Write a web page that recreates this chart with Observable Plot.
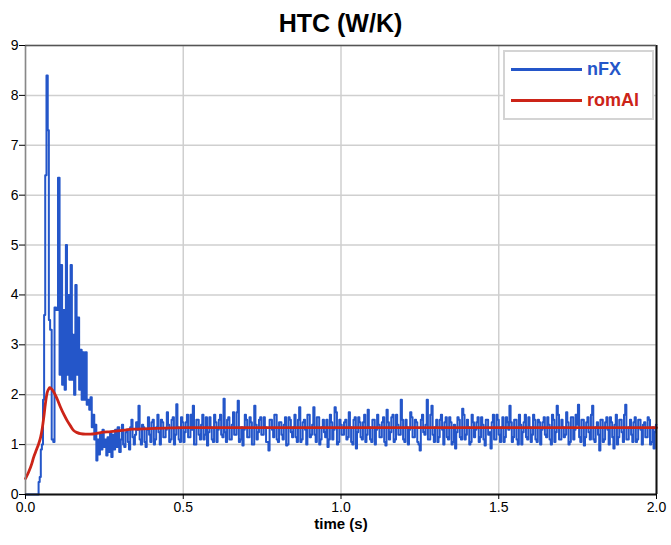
<!DOCTYPE html>
<html>
<head>
<meta charset="utf-8">
<script src="https://cdn.jsdelivr.net/npm/d3@7"></script>
<script src="https://cdn.jsdelivr.net/npm/@observablehq/plot@0.6"></script>
<style>
  body { margin: 0; background: #fff; font-family: "Liberation Sans", Arial, sans-serif; }
  #wrap { position: relative; width: 671px; height: 545px; }
  #title { position: absolute; left: 0; top: 8px; width: 671px; padding-left: 10px; box-sizing: border-box; text-align: center; font-weight: bold; font-size: 25px; line-height: 30px; color: #000; }
  #legend { position: absolute; left: 503px; top: 50px; width: 151px; height: 70px; border: 2px solid #d4d4d4; background: #fff; box-sizing: border-box; }
  .lg { position: absolute; left: 6px; height: 22px; display: flex; align-items: center; font-weight: bold; font-size: 18px; }
  .lg span.ln { display: inline-block; width: 71px; height: 3px; margin-right: 5px; }
</style>
</head>
<body>
<div id="wrap">
  <div id="chart"></div>
  <div id="title">HTC (W/K)</div>
  <div id="legend"></div>
</div>
<script>
// ---- data ----
const seriesNames = ["nFX", "romAl"];
const seriesColors = ["#2456c9", "#cc2418"];

// nFX: early transient (time, value)
const nfxEarlyTime = [0, 0.040, 0.043, 0.047, 0.050, 0.054, 0.057, 0.061, 0.064, 0.069, 0.072, 0.076, 0.080, 0.086, 0.090, 0.094, 0.100, 0.106, 0.110, 0.114, 0.118, 0.122, 0.126, 0.130, 0.133, 0.137, 0.141, 0.145, 0.149, 0.152, 0.156, 0.160, 0.164, 0.168, 0.172, 0.176, 0.180, 0.184, 0.188, 0.192, 0.196, 0.200, 0.204, 0.208, 0.212, 0.216, 0.220, 0.223, 0.226, 0.230, 0.234, 0.238, 0.242, 0.246, 0.250, 0.254, 0.258, 0.262, 0.266, 0.270, 0.274, 0.278, 0.282, 0.286, 0.290, 0.294];
const nfxEarlyValue = [0, 0.0, 0.25, 0.35, 0.9, 1.0, 1.9, 3.6, 6.4, 8.4, 7.3, 3.5, 3.3, 1.1, 1.05, 3.75, 3.7, 6.35, 2.4, 4.6, 2.2, 3.7, 2.1, 5.0, 2.4, 4.0, 2.3, 4.6, 2.3, 3.2, 2.0, 4.2, 2.4, 3.55, 2.1, 2.9, 1.9, 2.85, 1.9, 2.85, 1.8, 1.9, 1.7, 1.95, 1.35, 1.6, 1.1, 1.4, 0.68, 1.1, 0.8, 1.2, 0.9, 1.3, 0.95, 1.1, 0.78, 1.15, 0.85, 1.25, 0.75, 1.2, 0.9, 1.3, 0.95, 1.35];

// nFX: steady part, evenly sampled from 0.30 s to 2.0 s (A samples),
// with B samples lying half-way between consecutive A samples
const nfxSteadyStart = 0.30, nfxSteadyEnd = 2.0;
const nfxSteadyA = [
  0.85, 1.4, 0.95, 1.3, 0.9, 1.5, 1.0, 1.45, 1.78, 1.0, 1.35, 0.95, 1.55, 1.05,
  1.5, 1.1, 1.6, 1.0, 1.45, 1.15, 1.65, 1.05, 1.5, 1.0, 1.81, 1.1, 1.55,
  1.05, 1.45, 1.15, 1.6, 1.78, 1.0, 1.5, 1.1, 1.6, 1.2, 0.98, 1.55, 1.1,
  1.6, 1.05, 1.5, 1.2, 1.92, 1.05, 1.55, 1.1, 1.65, 1.2, 1.88, 1.1, 0.98, 1.6, 1.15, 1.55, 1.0, 1.78, 1.1, 1.5,
  1.2, 1.55, 1.05, 0.88, 1.5, 1.15, 1.6, 1.05, 1.45, 1.1, 1.55, 1.0, 1.5, 1.15, 1.6, 1.05, 1.75, 1.1, 1.5, 1.0,
  1.6, 1.2, 1.75, 1.05, 1.55, 1.1, 1.5, 1.15, 0.95, 1.6, 1.1, 1.75, 1.0, 1.5, 1.2, 1.45, 1.1, 1.65, 1.05, 1.5,
  0.92, 1.55, 1.15, 1.45, 1.05, 1.7, 1.1, 1.5, 1.0, 1.6, 1.15, 1.45, 1.05, 1.7, 1.1, 1.55, 1.05, 1.6, 1.2, 1.9,
  1.1, 1.5, 1.0, 1.65, 1.15, 1.5, 1.05, 0.88, 1.6, 1.2, 1.9, 1.1, 1.78, 1.05, 1.5, 1.15, 1.6, 1.0, 1.55, 1.1,
  1.45, 1.05, 0.92, 1.55, 1.15, 1.72, 1.1, 1.5, 1.0, 1.6, 1.15, 1.45, 1.05, 1.55, 1.1, 1.5, 1.2, 0.92, 1.6, 1.1,
  1.5, 1.05, 1.55, 1.15, 1.45, 1.78, 1.05, 1.5, 1.1, 1.6, 1.0, 1.45, 1.15, 1.55, 1.05, 1.6, 1.1, 1.5, 1.0, 1.45,
  1.2, 1.55, 1.1, 1.6, 1.05, 1.78, 1.1, 1.5, 1.15, 1.65, 1.0, 1.55, 1.1, 1.6, 1.8, 1.05, 1.5, 1.15, 1.55, 1.1,
  1.78, 1.05, 1.45, 0.88, 1.5, 1.1, 1.55, 1.0, 1.45, 0.92, 1.6, 1.15, 1.5, 1.05, 1.8, 1.1, 1.5, 1.05, 1.55, 1.1,
  1.5, 1.0, 1.45, 1.15, 1.5, 1.05, 0.92, 1.4
];
const nfxSteadyB = [
  1.1, 1.0, 1.25, 1.05, 1.35, 1.15, 1.2, 1.3, 1.1, 1.4, 1.05, 1.3, 1.2, 1.45, 1.0, 1.35, 1.25, 1.5, 1.15, 1.3,
  1.4, 1.1, 1.55, 1.2, 1.35, 1.05, 1.45, 1.25, 1.6, 1.15, 1.3, 1.0, 1.5, 1.2, 1.4, 1.1, 1.55, 1.25, 1.35, 1.05,
  1.45, 1.3, 1.6, 1.15, 1.25, 1.5, 1.1, 1.4, 1.2, 1.65, 1.05, 1.35, 1.3, 1.5, 1.15, 1.45, 1.0, 1.4, 1.25, 1.55,
  1.2, 1.35, 1.05, 1.5, 1.3, 1.6, 1.1, 1.45, 1.2, 1.4, 0.98, 1.55, 1.25, 1.35, 1.15, 1.5, 1.05, 1.45, 1.3, 1.6,
  1.15, 1.4, 1.2, 1.55, 1.0, 1.35, 1.25, 1.5, 1.1, 1.45, 1.3, 1.65, 1.05, 1.4, 1.2, 1.5, 1.15, 1.35, 1.0, 1.55,
  1.25, 1.45, 1.1, 1.6, 1.2, 1.35, 1.05, 1.5, 1.3, 1.4, 1.15, 1.55, 0.98, 1.45, 1.25, 1.6, 1.1, 1.4, 1.2, 1.5,
  1.05, 1.35, 1.3, 1.55, 1.15, 1.45, 1.0, 1.5, 1.25, 1.4, 1.1, 1.6, 1.2, 1.35, 1.05, 1.5, 1.3, 1.45, 1.15, 1.55,
  1.0, 1.4, 1.25, 1.5, 1.1, 1.6, 1.2, 1.35, 1.05, 1.45, 1.3, 1.55, 1.15, 1.4, 0.98, 1.5, 1.25, 1.45, 1.1, 1.6,
  1.2, 1.35, 1.05, 1.55, 1.3, 1.45, 1.15, 1.5, 1.0, 1.4, 1.25, 1.6, 1.1, 1.35, 1.2, 1.5, 1.05, 1.45, 1.3, 1.55,
  1.15, 1.4, 1.0, 1.5, 1.25, 1.6, 1.1, 1.35, 1.2, 1.45, 1.05, 1.55, 1.3, 1.4, 1.15, 1.5, 0.98, 1.45, 1.25, 1.6,
  1.1, 1.35, 1.2, 1.5, 1.05, 1.45, 1.3, 1.55, 1.15, 1.4, 1.0, 1.5, 1.25, 1.6, 1.1, 1.35, 1.2, 1.45, 1.05, 1.5,
  1.3, 1.4, 1.15, 1.55, 1.0, 1.35, 1.25
];

// romAl: smooth response (time, value)
const romTime  = [0, 0.010, 0.020, 0.026, 0.035, 0.042, 0.048, 0.053, 0.058, 0.063, 0.069, 0.074, 0.077, 0.082, 0.090, 0.100, 0.111, 0.122, 0.132, 0.143, 0.153, 0.164, 0.174, 0.190, 0.206, 0.222, 0.238, 0.270, 0.300, 0.340, 0.390, 0.440, 0.500, 0.600, 0.800, 1.000, 1.200, 1.500, 1.800, 2.000];
const romValue = [0.32, 0.45, 0.62, 0.75, 0.9, 1.02, 1.15, 1.32, 1.55, 1.82, 2.05, 2.12, 2.14, 2.12, 2.05, 1.92, 1.75, 1.6, 1.48, 1.37, 1.28, 1.24, 1.22, 1.21, 1.21, 1.22, 1.24, 1.26, 1.28, 1.31, 1.32, 1.33, 1.34, 1.34, 1.34, 1.34, 1.34, 1.34, 1.34, 1.34];

const yTicks = [0, 1, 2, 3, 4, 5, 6, 7, 8, 9];
const xTicks = [0, 0.5, 1.0, 1.5, 2.0];
const xLabel = "time (s)";

// ---- build tables ----
const nfx = [];
nfxEarlyTime.forEach((t, i) => nfx.push({t, v: nfxEarlyValue[i]}));
const nA = nfxSteadyA.length;
const dt = (nfxSteadyEnd - nfxSteadyStart) / (nA - 1);
nfxSteadyA.forEach((v, i) => {
  nfx.push({t: nfxSteadyStart + i * dt, v});
  if (i < nA - 1 && i < nfxSteadyB.length) nfx.push({t: nfxSteadyStart + (i + 0.5) * dt, v: nfxSteadyB[i]});
});
const rom = romTime.map((t, i) => ({t, v: romValue[i]}));

const chart = Plot.plot({
  width: 671,
  height: 545,
  marginTop: 45,
  marginBottom: 51,
  marginLeft: 25,
  marginRight: 15,
  style: {fontFamily: "'Liberation Sans', Arial, sans-serif", fontSize: "15px", color: "#000", background: "#fff"},
  x: {domain: [0, 2], label: null},
  y: {domain: [0, 9], label: null},
  marks: [
    Plot.gridY(yTicks, {stroke: "#cfcfcf", strokeOpacity: 1, strokeWidth: 1.5}),
    Plot.gridX(xTicks, {stroke: "#cfcfcf", strokeOpacity: 1, strokeWidth: 1.5}),
    Plot.line(nfx, {x: "t", y: "v", stroke: seriesColors[0], strokeWidth: 2, curve: "step"}),
    Plot.line(rom, {x: "t", y: "v", stroke: seriesColors[1], strokeWidth: 2.8, curve: "monotone-x"}),
    Plot.ruleX([0], {stroke: "#888", strokeWidth: 1.5}),
    Plot.ruleY([0], {stroke: "#111", strokeWidth: 2}),
    Plot.ruleX([2], {stroke: "#111", strokeWidth: 2}),
    Plot.ruleY([9], {stroke: "#555", strokeWidth: 1.5}),
    Plot.axisX({ticks: xTicks, tickFormat: d3.format(".1f"), tickSize: 5, tickPadding: 3, label: null, fontSize: 14}),
    Plot.axisY({ticks: yTicks, tickFormat: d3.format("d"), tickSize: 6, tickPadding: 1, label: null, fontSize: 14}),
    Plot.text([xLabel], {frameAnchor: "bottom", dy: 34, fontWeight: "bold", fontSize: 15, fill: "#000"})
  ]
});
document.getElementById("chart").appendChild(chart);

// legend
const lg = document.getElementById("legend");
seriesNames.forEach((name, i) => {
  const row = document.createElement("div");
  row.className = "lg";
  row.style.top = (6 + i * 31) + "px";
  row.style.color = seriesColors[i];
  row.innerHTML = `<span class="ln" style="background:${seriesColors[i]}"></span>${name}`;
  lg.appendChild(row);
});
</script>
</body>
</html>
